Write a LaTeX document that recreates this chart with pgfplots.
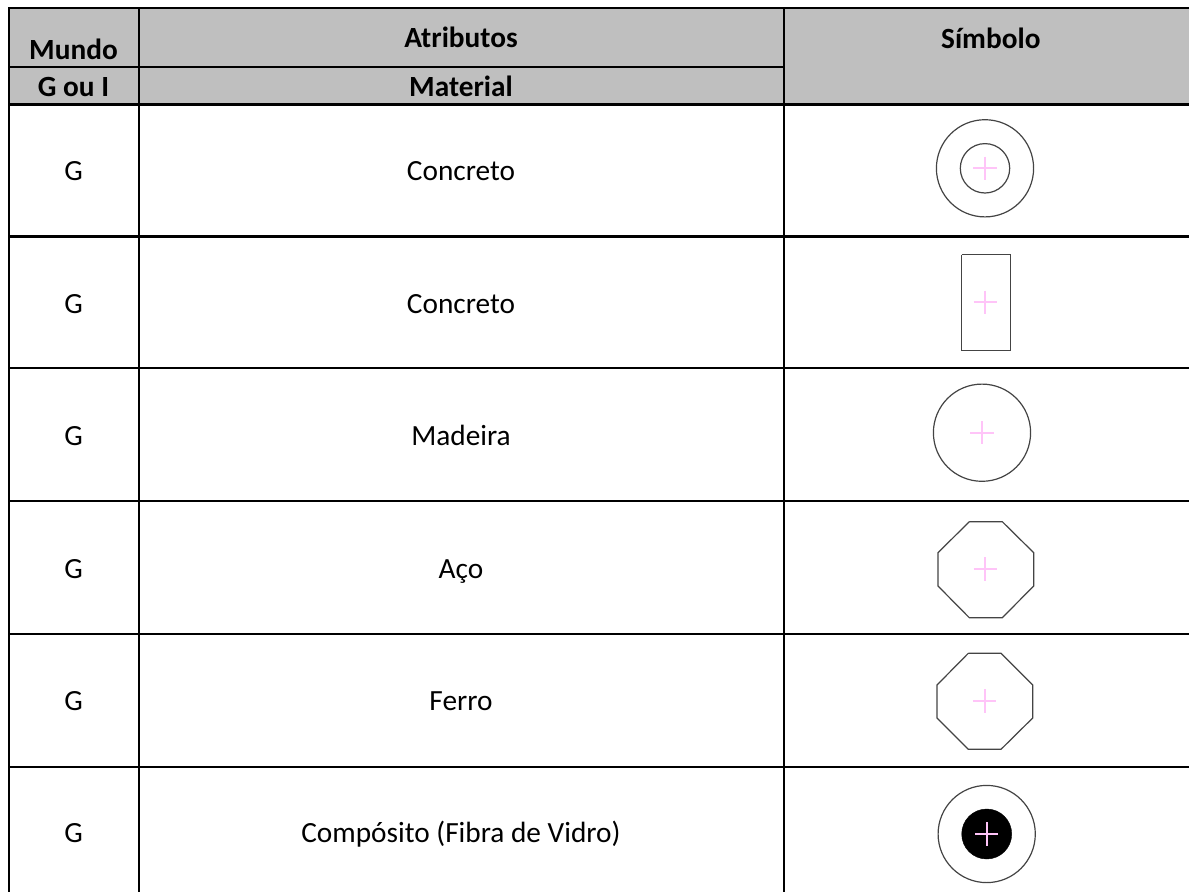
\documentclass[border=0pt]{standalone}
\usepackage{pgfplots}
\pgfplotsset{compat=1.18}
\usepackage{fontspec}
\setmainfont{Carlito}
\definecolor{hdr}{HTML}{BFBFBF}
\definecolor{pk}{HTML}{FFC4F8}
\definecolor{sym}{HTML}{444444}
\pgfplotsset{
  grid line/.style={black, line width=2.2pt, line cap=butt},
  sym line/.style={sym, line width=1.2pt},
  cross/.style={only marks, mark=+, mark size=11.7pt, line width=2pt, draw=pk, mark options={solid, draw=pk, line width=2pt}},
}
\tikzset{
  txt/.style={anchor=base, font=\fontsize{29.3}{30}\selectfont, text=black},
  bold txt/.style={anchor=base, font=\fontsize{29.3}{30}\selectfont\bfseries, text=black},
}
\begin{document}
\begin{tikzpicture}
\begin{axis}[
  at={(0,0)}, anchor=south west,
  scale only axis, width=1189pt, height=892pt,
  xmin=0, xmax=1189, ymin=0, ymax=892, y dir=reverse,
  hide axis, clip=true,
]
% page background, which also fixes the extent of the picture
\addplot[fill=white, draw=none] coordinates {(0,0) (1189,0) (1189,892) (0,892) (0,0)};
% header fill
\addplot[fill=hdr, draw=none] coordinates {(9,8) (1189,8) (1189,104.5) (9,104.5) (9,8)};
% grid
\addplot[grid line] coordinates {(8,8) (1189,8)};
\addplot[grid line] coordinates {(8,66.7) (784,66.7)};
\addplot[grid line] coordinates {(8,104.5) (1189,104.5)};
\addplot[grid line] coordinates {(8,236.5) (1189,236.5)};
\addplot[grid line] coordinates {(8,368.3) (1189,368.3)};
\addplot[grid line] coordinates {(8,501) (1189,501)};
\addplot[grid line] coordinates {(8,634.3) (1189,634.3)};
\addplot[grid line] coordinates {(8,767) (1189,767)};
\addplot[grid line] coordinates {(9,7) (9,892)};
\addplot[grid line] coordinates {(139,7) (139,892)};
\addplot[grid line] coordinates {(784,7) (784,892)};
% symbols: circles
\addplot[only marks, mark=o, mark size=48.6pt, mark options={draw=sym, line width=1.2pt, fill=none}] coordinates {(985,168.3) (982,432.7) (986.7,834)};
\addplot[only marks, mark=o, mark size=24.7pt, mark options={draw=sym, line width=1.2pt, fill=none}] coordinates {(985,168.3)};
\addplot[only marks, mark=*, mark size=25pt, mark options={draw=black, fill=black}] coordinates {(986.7,834)};
% rectangle
\addplot[sym line] coordinates {(961.7,254.7) (1010.7,254.7) (1010.7,350.7) (961.7,350.7) (961.7,254.7)};
% octagons
\addplot[sym line] coordinates {(969.3,521.7) (1002.3,521.7) (1033.7,552.7) (1033.7,586) (1002.3,617.7) (969.3,617.7) (938,586) (938,552.7) (969.3,521.7)};
\addplot[sym line] coordinates {(968.3,653.3) (1001,653.3) (1032.7,685) (1032.7,718) (1001,749.3) (968.3,749.3) (937,718) (937,685) (968.3,653.3)};
% crosses
\addplot[cross] coordinates {(985,168.3) (985.3,302.3) (982,432.7) (985.3,569) (984.5,701) (986.7,834)};
% text
\node[bold txt] at (axis cs:73.5,59) {Mundo};
\node[bold txt] at (axis cs:73.5,96.7) {G ou I};
\node[bold txt] at (axis cs:461,47.3) {Atributos};
\node[bold txt] at (axis cs:461,96.7) {Material};
\node[bold txt] at (axis cs:990.8,48.3) {Símbolo};
\node[txt] at (axis cs:73.5,180.7) {G};
\node[txt] at (axis cs:73.5,313) {G};
\node[txt] at (axis cs:73.5,445.5) {G};
\node[txt] at (axis cs:73.5,578) {G};
\node[txt] at (axis cs:73.5,710.5) {G};
\node[txt] at (axis cs:73.5,842.7) {G};
\node[txt] at (axis cs:461,180.7) {Concreto};
\node[txt] at (axis cs:461,313) {Concreto};
\node[txt] at (axis cs:461,445.5) {Madeira};
\node[txt] at (axis cs:461,578) {Aço};
\node[txt] at (axis cs:461,710.5) {Ferro};
\node[txt] at (axis cs:461,842.7) {Compósito (Fibra de Vidro)};
\end{axis}
\end{tikzpicture}
\end{document}
